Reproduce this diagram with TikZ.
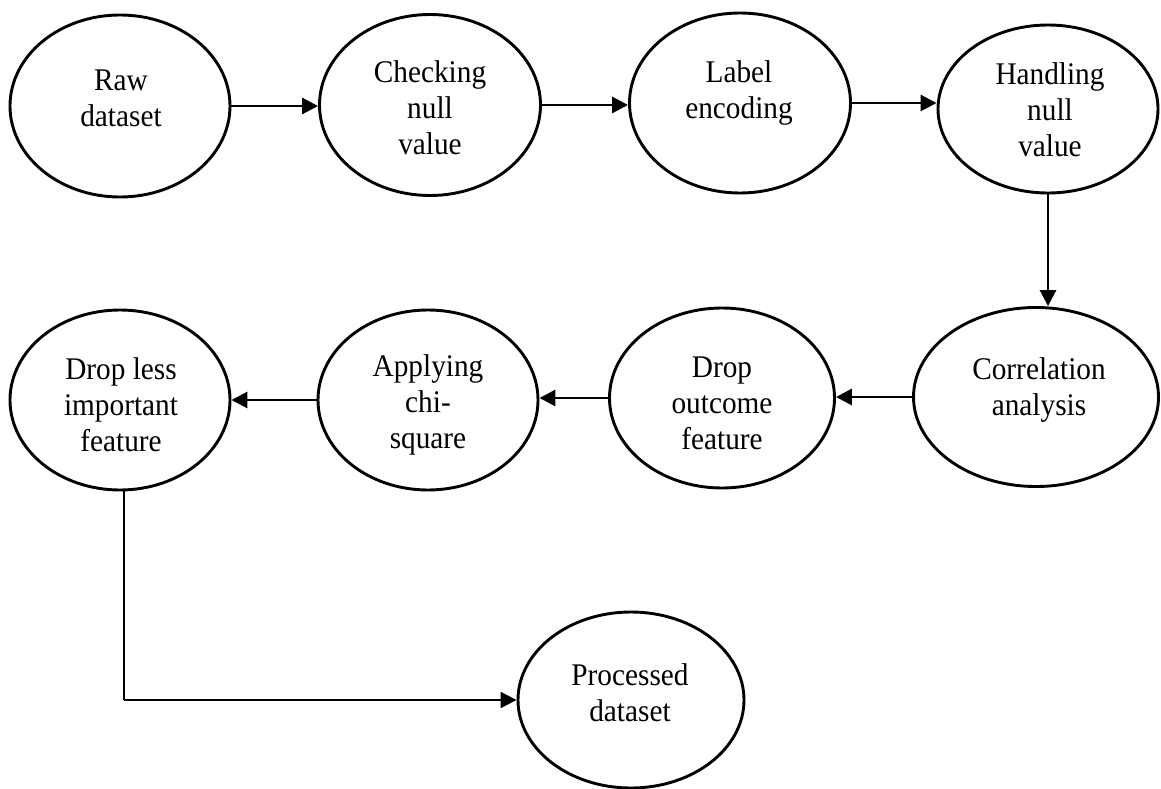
\documentclass[tikz,border=0pt]{standalone}
\usepackage{fontspec}
\setmainfont{Liberation Serif}[FakeStretch=0.93]
\usetikzlibrary{shapes.geometric,arrows.meta}
\begin{document}
\begin{tikzpicture}[x=1pt,y=-1pt,
  ell/.style={draw=black,line width=2.9pt,ellipse,inner sep=0pt,fill=white},
  txt/.style={align=center,inner sep=0pt,font=\fontsize{31.5}{36}\selectfont},
  arr/.style={line width=2.9pt,-{Triangle[length=16pt,width=16pt]}},
  lnk/.style={line width=2.3pt}]
\useasboundingbox[fill=white] (0,0) rectangle (1161,789);
% ellipses
\node[ell,minimum width=220pt,minimum height=182pt] (raw) at (120,106) {};
\node[ell,minimum width=221pt,minimum height=181pt] (chk) at (430,105) {};
\node[ell,minimum width=221pt,minimum height=180pt] (lab) at (740,103) {};
\node[ell,minimum width=220pt,minimum height=168pt] (hnd) at (1048,109) {};
\node[ell,minimum width=245pt,minimum height=179pt] (cor) at (1036,397) {};
\node[ell,minimum width=225pt,minimum height=180pt] (dro) at (722,398) {};
\node[ell,minimum width=220pt,minimum height=180pt] (app) at (428,400) {};
\node[ell,minimum width=220pt,minimum height=180pt] (dlf) at (120,400) {};
\node[ell,minimum width=226pt,minimum height=176pt] (pro) at (631,700) {};
% texts
\node[txt] (traw) at (121,98) {Raw\\dataset};
\node[txt] (tchk) at (430,108) {Checking\\null\\value};
\node[txt] (tlab) at (739,93) {Label\\encoding};
\node[txt] (thnd) at (1050,110) {Handling\\null\\value};
\node[txt] (tcor) at (1039,390) {Correlation\\analysis};
\node[txt] (tdro) at (722,403) {Drop\\outcome\\feature};
\node[txt] (tapp) at (428,405) {Applying\\chi-\\square};
\node[txt] (tdlf) at (121,405) {Drop less\\important\\feature};
\node[txt] (tpro) at (630,693) {Processed\\dataset};
% connectors
\draw[arr] (raw.east) -- (raw.east -| chk.west);
\draw[arr] (chk.east) -- (chk.east -| lab.west);
\draw[arr] (lab.east) -- (lab.east -| hnd.west);
\draw[arr] (hnd.south) -- (hnd.south |- cor.north);
\draw[arr] (cor.west) -- (cor.west -| dro.east);
\draw[arr] (dro.west) -- (dro.west -| app.east);
\draw[arr] (app.west) -- (app.west -| dlf.east);
\coordinate (corner) at (124,700);
\draw[lnk] (dlf.south -| corner) -- (corner);
\draw[arr,line width=2.3pt] (corner) -- (pro.west);
\end{tikzpicture}
\end{document}
